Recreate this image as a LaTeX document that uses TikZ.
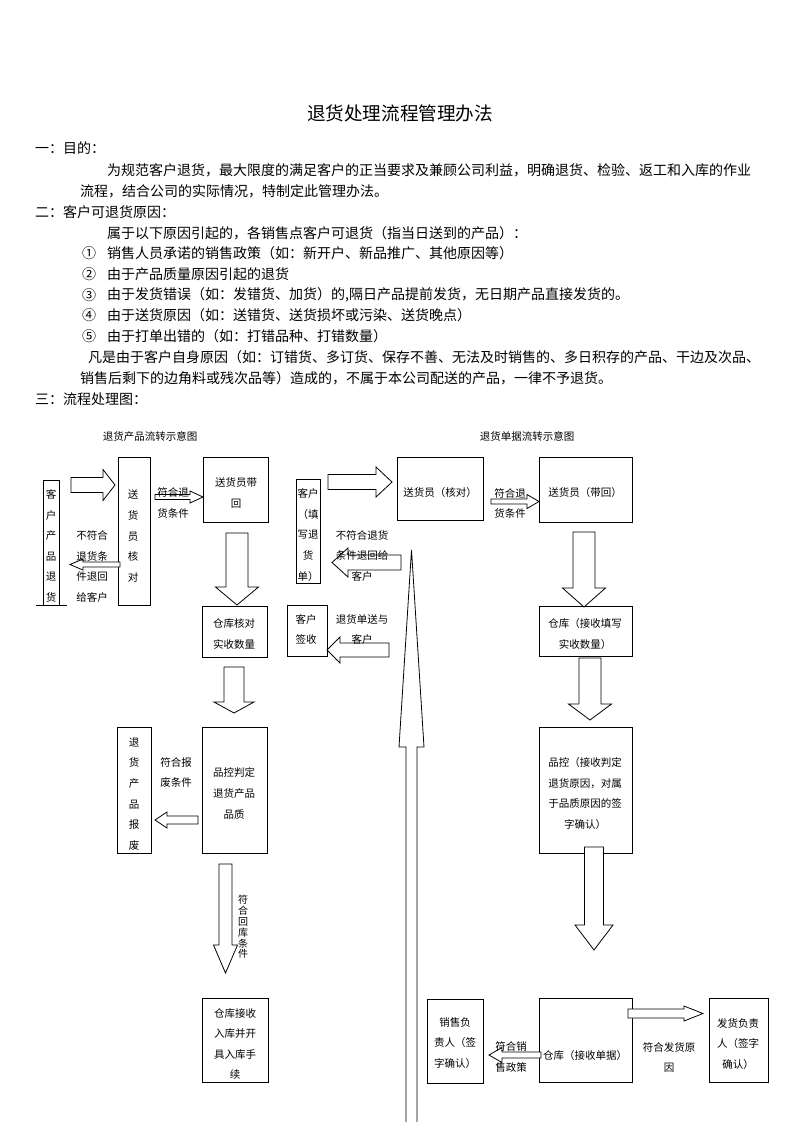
\documentclass[tikz,border=0pt]{standalone}
\usepackage{fontspec}
\setmainfont{Noto Sans CJK SC}
\begin{document}
\begin{tikzpicture}[x=1pt,y=-1pt,
  body/.style={anchor=west, inner sep=0pt, font=\fontsize{14}{16}\selectfont},
  dtext/.style={align=center, inner sep=0pt, font=\fontsize{10.5}{20.6}\selectfont},
  box/.style={draw, line width=0.8pt, inner sep=0pt},
  blk/.style={draw, line width=0.8pt, fill=white, line join=miter}]
\newcommand\myHArrow[6]{\draw[blk] (#1,{#4-#5}) -- (#3,{#4-#5}) -- (#3,{#4-#6}) -- (#2,#4) -- (#3,{#4+#6}) -- (#3,{#4+#5}) -- (#1,{#4+#5}) -- cycle;}
\newcommand\myVArrow[6]{\draw[blk] ({#4-#5},#1) -- ({#4-#5},#3) -- ({#4-#6},#3) -- (#4,#2) -- ({#4+#6},#3) -- ({#4+#5},#3) -- ({#4+#5},#1) -- cycle;}
\useasboundingbox (0,0) rectangle (793,1122);
\fill[white] (0,0) rectangle (793,1122);

% ---------- text part ----------
\node[inner sep=0pt, font=\fontsize{18.6}{20}\selectfont] (title) at (400,113) {退货处理流程管理办法};
\node[body] (s1) at (35,148) {一：目的：};
\node[body] (p1a) at (107,170) {为规范客户退货，最大限度的满足客户的正当要求及兼顾公司利益，明确退货、检验、返工和入库的作业};
\node[body] (p1b) at (80,191) {流程，结合公司的实际情况，特制定此管理办法。};
\node[body] (s2) at (35,212) {二：客户可退货原因：};
\node[body] (p2) at (107,233) {属于以下原因引起的，各销售点客户可退货（指当日送到的产品）：};
\node[body] (n1) at (82,253) {①};
\node[body] (r1) at (107,253) {销售人员承诺的销售政策（如：新开户、新品推广、其他原因等）};
\node[body] (n2) at (82,274) {②};
\node[body] (r2) at (107,274) {由于产品质量原因引起的退货};
\node[body] (n3) at (82,295) {③};
\node[body] (r3) at (107,295) {由于发货错误（如：发错货、加货）的,隔日产品提前发货，无日期产品直接发货的。};
\node[body] (n4) at (82,315) {④};
\node[body] (r4) at (107,315) {由于送货原因（如：送错货、送货损坏或污染、送货晚点）};
\node[body] (n5) at (82,336) {⑤};
\node[body] (r5) at (107,336) {由于打单出错的（如：打错品种、打错数量）};
\node[body] (p3a) at (88,357) {凡是由于客户自身原因（如：订错货、多订货、保存不善、无法及时销售的、多日积存的产品、干边及次品、};
\node[body] (p3b) at (80,378) {销售后剩下的边角料或残次品等）造成的，不属于本公司配送的产品，一律不予退货。};
\node[body] (s3) at (35,399) {三：流程处理图：};

% ---------- left diagram ----------
\node[dtext] (ltitle) at (150,436) {退货产品流转示意图};

\node[box, minimum width=16, minimum height=125] (custL) at (51,542.5) {};
\draw[line width=0.8pt] (36,605) -- (67,605);
\node[box, minimum width=32, minimum height=148] (chk) at (134,531) {};
\node[box, minimum width=65, minimum height=65] (bring) at (235.5,489.5) {};
\node[box, minimum width=65, minimum height=51] (whchk) at (234.5,631.5) {};
\node[box, minimum width=65, minimum height=126] (qc) at (234.5,790) {};
\node[box, minimum width=34, minimum height=126] (scrap) at (134,790) {};
\node[box, minimum width=66, minimum height=84] (whin) at (235,1040) {};

\node[dtext] (tcustL) at (51,546) {客\\户\\产\\品\\退\\货};
\node[dtext] (tchk) at (133,536) {送\\货\\员\\核\\对};
\node[dtext] (tbring) at (236,493) {送货员带\\回};
\node[dtext] (twhchk) at (234,634) {仓库核对\\实收数量};
\node[dtext] (tqc) at (234,793.5) {品控判定\\退货产品\\品质};
\node[dtext] (tscrap) at (134,794) {退\\货\\产\\品\\报\\废};
\node[dtext] (twhin) at (235,1044) {仓库接收\\入库并开\\具入库手\\续};

\myHArrow{71}{115}{103}{485}{7.5}{15.5}
\myHArrow{155}{203}{190}{497}{2.5}{6}
\myHArrow{120}{70}{83}{564.5}{2.5}{5.5}
\myVArrow{533}{605}{587}{237}{11}{21.5}
\myVArrow{667}{713}{702}{234}{10}{20}
\myHArrow{198}{155}{167}{820}{4}{8}
\myVArrow{864}{973}{945}{225.5}{6.5}{12}

\node[dtext] (lrej) at (92,566.5) {不符合\\退货条\\件退回\\给客户};
\node[dtext] (lok) at (173,503) {符合退\\货条件};
\node[dtext] (lscrap) at (176,772.5) {符合报\\废条件};
\node[align=center, inner sep=0pt, font=\fontsize{10}{10.8}\selectfont] (lback) at (243,927) {符\\合\\回\\库\\条\\件};

% ---------- right diagram ----------
\node[dtext] (rtitle) at (527,436) {退货单据流转示意图};

\node[box, minimum width=24, minimum height=104] (custR) at (308,531) {};
\node[box, minimum width=86, minimum height=63] (chkR) at (440,488.5) {};
\node[box, minimum width=93, minimum height=65] (bringR) at (585.5,489.5) {};
\node[box, minimum width=40, minimum height=51] (sign) at (307,630.5) {};
\node[box, minimum width=93, minimum height=50] (whR) at (585.5,631) {};
\node[box, minimum width=93, minimum height=126] (qcR) at (585.5,790) {};
\node[box, minimum width=56, minimum height=84] (sales) at (455,1041) {};
\node[box, minimum width=93, minimum height=84] (whdoc) at (585.5,1040) {};
\node[box, minimum width=59, minimum height=84] (ship) at (738.5,1040) {};

\node[dtext] (tcustR) at (308,535) {客户\\（填\\写退\\货\\单）};
\node[dtext] (tchkR) at (440,493) {送货员（核对）};
\node[dtext] (tbringR) at (585,493) {送货员（带回）};
\node[dtext] (tsign) at (306,629.5) {客户\\签收};
\node[dtext] (twhR) at (585,634) {仓库（接收填写\\实收数量）};
\node[dtext] (tqcR) at (585,793.5) {品控（接收判定\\退货原因，对属\\于品质原因的签\\字确认）};
\node[dtext] (tsales) at (455,1043) {销售负\\责人（签\\字确认）};
\node[dtext] (twhdoc) at (585,1055) {仓库（接收单据）};
\node[dtext] (tship) at (738,1044) {发货负责\\人（签字\\确认）};

\myVArrow{1135}{550}{747}{411.5}{5.5}{12.5}
\myHArrow{328}{392}{376}{482}{7.5}{15}
\myHArrow{491}{539}{527}{501.5}{2.5}{7}
\myHArrow{401}{332}{348}{562.5}{7.5}{14.5}
\myVArrow{532}{607}{588}{584}{11}{21.5}
\myHArrow{389}{327}{340}{650}{7}{13}
\myVArrow{658}{720}{704}{590}{11}{21.5}
\myVArrow{847}{950}{925}{594}{9.5}{19}
\myHArrow{541}{489}{502}{1055}{3}{7.5}
\myHArrow{628}{703}{684}{1013.5}{4.5}{7.5}

\node[dtext] (rok) at (510,503.5) {符合退\\货条件};
\node[dtext] (rrej) at (362,556) {不符合退货\\条件退回给\\客户};
\node[dtext] (rsend) at (362,629.5) {退货单送与\\客户};
\node[dtext] (rsale) at (511,1057) {符合销\\售政策};
\node[dtext] (rship) at (669,1057.5) {符合发货原\\因};
\end{tikzpicture}
\end{document}
